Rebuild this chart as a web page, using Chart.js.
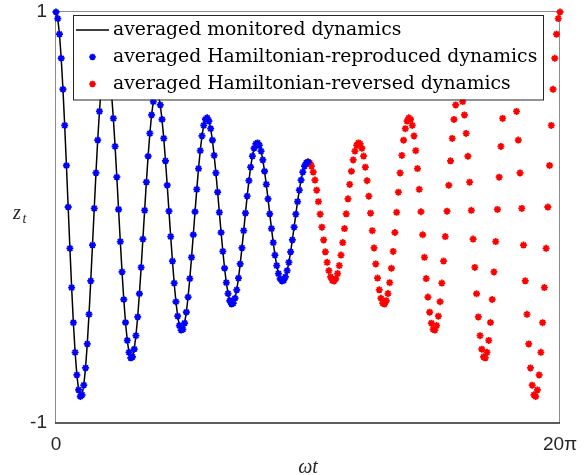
<!DOCTYPE html>
<html>
<head>
<meta charset="utf-8">
<script src="https://cdn.jsdelivr.net/npm/chart.js@4/dist/chart.umd.min.js"></script>
<style>
  html, body { margin: 0; padding: 0; background: #fff; }
  #wrap { width: 585px; height: 475px; }
</style>
</head>
<body>
<div id="wrap"><canvas id="zChart" width="585" height="475"></canvas></div>
<script>
const seriesLabels = [
    'averaged monitored dynamics',
    'averaged Hamiltonian-reproduced dynamics',
    'averaged Hamiltonian-reversed dynamics'
];
const xTickValues = [0, 20 * Math.PI];
const xTickLabels = ['0', '20\u03c0'];
const yTickValues = [-1, 1];
const yTickLabels = ['-1', '1'];

// samples are taken every 2*pi/29 in omega*t
const samplesPerPeriod = 29;
const reverseStart = 10 * Math.PI;

// z_t from 0 to 10*pi (line and blue stars)
const monitored = [
    1.000, 0.968, 0.892, 0.775, 0.624, 0.448, 0.253, 0.051, -0.150, -0.341,
    -0.512, -0.656, -0.766, -0.839, -0.871, -0.863, -0.816, -0.732, -0.615, -0.471,
    -0.308, -0.134, 0.044, 0.217, 0.377, 0.516, 0.629, 0.710, 0.757,
    0.768, 0.744, 0.687, 0.598, 0.482, 0.346, 0.196, 0.039, -0.117, -0.265,
    -0.399, -0.511, -0.598, -0.656, -0.683, -0.678, -0.641, -0.575, -0.484, -0.371,
    -0.243, -0.105, 0.035, 0.172, 0.298, 0.409, 0.499, 0.564, 0.603,
    0.612, 0.593, 0.548, 0.477, 0.385, 0.276, 0.157, 0.031, -0.093, -0.212,
    -0.319, -0.410, -0.480, -0.526, -0.548, -0.544, -0.514, -0.461, -0.387, -0.297,
    -0.194, -0.084, 0.028, 0.137, 0.238, 0.325, 0.397, 0.448, 0.478,
    0.485, 0.469, 0.432, 0.376, 0.302, 0.217, 0.123, 0.025, -0.073, -0.165,
    -0.247, -0.317, -0.370, -0.405, -0.421, -0.417, -0.393, -0.352, -0.295, -0.226,
    -0.148, -0.064, 0.021, 0.104, 0.179, 0.245, 0.299, 0.337, 0.358,
    0.363, 0.351, 0.323, 0.280, 0.225, 0.161, 0.091, 0.018, -0.054, -0.122,
    -0.183, -0.234, -0.273, -0.298, -0.309, -0.306, -0.289, -0.259, -0.218, -0.167,
    -0.109, -0.047, 0.016, 0.077, 0.133, 0.182, 0.221, 0.250, 0.266, 0.270
];

// z_t from 10*pi to 20*pi (red stars)
const reversed = [
    0.270, 0.266, 0.250, 0.221, 0.182, 0.133, 0.077, 0.016, -0.047, -0.109,
    -0.167, -0.218, -0.259, -0.289, -0.306, -0.309, -0.298, -0.273, -0.234, -0.183,
    -0.122, -0.054, 0.018, 0.091, 0.161, 0.225, 0.280, 0.323, 0.351, 0.363,
    0.358, 0.337, 0.299, 0.245, 0.179, 0.104, 0.021, -0.064, -0.148, -0.226,
    -0.295, -0.352, -0.393, -0.417, -0.421, -0.405, -0.370, -0.317, -0.247, -0.165,
    -0.073, 0.025, 0.123, 0.217, 0.302, 0.376, 0.432, 0.469, 0.485,
    0.478, 0.448, 0.397, 0.325, 0.238, 0.137, 0.028, -0.084, -0.194, -0.297,
    -0.387, -0.461, -0.514, -0.544, -0.548, -0.526, -0.480, -0.410, -0.319, -0.212,
    -0.093, 0.031, 0.157, 0.276, 0.385, 0.477, 0.548, 0.593, 0.612,
    0.603, 0.564, 0.499, 0.409, 0.298, 0.172, 0.035, -0.105, -0.243, -0.371,
    -0.484, -0.575, -0.641, -0.678, -0.683, -0.656, -0.598, -0.511, -0.399, -0.265,
    -0.117, 0.039, 0.196, 0.346, 0.482, 0.598, 0.687, 0.744, 0.768,
    0.757, 0.710, 0.629, 0.516, 0.377, 0.217, 0.044, -0.134, -0.308, -0.471,
    -0.615, -0.732, -0.816, -0.863, -0.871, -0.839, -0.766, -0.656, -0.512, -0.341,
    -0.150, 0.051, 0.253, 0.448, 0.624, 0.775, 0.892, 0.968, 1.000
];

const dt = 2 * Math.PI / samplesPerPeriod;
const monitoredPoints = monitored.map((z, i) => ({ x: i * dt, y: z }));
const reversedPoints = reversed.map((z, i) => ({ x: reverseStart + i * dt, y: z }));

function drawStar(ctx, x, y, r, color) {
    ctx.beginPath();
    for (let k = 0; k < 4; k++) {
        const a = k * Math.PI / 4;
        ctx.moveTo(x + r * Math.cos(a), y + r * Math.sin(a));
        ctx.lineTo(x - r * Math.cos(a), y - r * Math.sin(a));
    }
    ctx.strokeStyle = color;
    ctx.lineWidth = 1.8;
    ctx.stroke();
}

// axes box, drawn under the data
const boxPlugin = {
    id: 'boxPlugin',
    beforeDatasetsDraw(chart) {
        const { ctx, chartArea: a } = chart;
        ctx.save();
        ctx.lineWidth = 1;
        ctx.strokeStyle = '#8c8c8c';
        ctx.beginPath();
        ctx.moveTo(a.left - 0.5, a.bottom);
        ctx.lineTo(a.left - 0.5, a.top - 0.5);
        ctx.lineTo(a.right - 0.5, a.top - 0.5);
        ctx.lineTo(a.right - 0.5, a.bottom);
        ctx.stroke();
        ctx.strokeStyle = '#262626';
        ctx.lineWidth = 1.5;
        ctx.beginPath();
        ctx.moveTo(a.left - 1, a.bottom);
        ctx.lineTo(a.right, a.bottom);
        ctx.stroke();
        ctx.restore();
    }
};

// legend box and axis titles
const labelPlugin = {
    id: 'labelPlugin',
    afterDraw(chart) {
        const { ctx, chartArea: a } = chart;
        const ds = chart.data.datasets;
        ctx.save();

        const lx = a.left + 17, ly = a.top + 3;
        const lw = a.right - 17 - lx, lh = 84.5;
        ctx.fillStyle = '#fff';
        ctx.fillRect(lx, ly, lw, lh);
        ctx.strokeStyle = '#262626';
        ctx.lineWidth = 1;
        ctx.strokeRect(lx + 0.5, ly + 0.5, lw, lh);

        const rows = [ly + 15, ly + 42, ly + 69];
        ctx.font = '18.8px "DejaVu Serif"';
        ctx.fillStyle = '#000';
        ctx.textBaseline = 'alphabetic';
        ds.forEach((d, i) => {
            const y = rows[i];
            if (i === 0) {
                ctx.strokeStyle = d.borderColor;
                ctx.lineWidth = 1.5;
                ctx.beginPath();
                ctx.moveTo(lx + 3, y);
                ctx.lineTo(lx + 36, y);
                ctx.stroke();
            } else {
                drawStar(ctx, lx + 19.5, y, 3.2, d.borderColor);
            }
            ctx.fillStyle = '#000';
            ctx.fillText(d.label, lx + 40, y + 5);
        });

        ctx.fillStyle = '#262626';
        ctx.font = 'italic 20px "Liberation Serif"';
        ctx.textAlign = 'left';
        ctx.fillText('z', 13, 219);
        ctx.font = 'italic 14px "Liberation Serif"';
        ctx.fillText('t', 22.5, 223);

        ctx.font = 'italic 20px "Liberation Serif"';
        ctx.textAlign = 'center';
        ctx.fillText('\u03c9t', (a.left + a.right) / 2, 473);
        ctx.restore();
    }
};

new Chart(document.getElementById('zChart'), {
    type: 'scatter',
    data: {
        datasets: [
            {
                label: seriesLabels[0],
                data: monitoredPoints,
                showLine: true,
                borderColor: '#000000',
                borderWidth: 1.5,
                pointRadius: 0,
                order: 3,
                clip: false
            },
            {
                label: seriesLabels[1],
                data: monitoredPoints,
                showLine: false,
                pointStyle: 'star',
                pointRadius: 3.5,
                borderColor: '#0000ff',
                backgroundColor: '#0000ff',
                pointBorderWidth: 1.8,
                order: 1,
                clip: false
            },
            {
                label: seriesLabels[2],
                data: reversedPoints,
                showLine: false,
                pointStyle: 'star',
                pointRadius: 3.5,
                borderColor: '#ff0000',
                backgroundColor: '#ff0000',
                pointBorderWidth: 1.8,
                order: 2,
                clip: false
            }
        ]
    },
    options: {
        responsive: false,
        animation: false,
        devicePixelRatio: 1,
        layout: { padding: { left: 0, right: 25, top: 12, bottom: 0 } },
        plugins: {
            legend: { display: false },
            tooltip: { enabled: false }
        },
        scales: {
            x: {
                type: 'linear',
                min: xTickValues[0],
                max: xTickValues[1],
                grid: { display: false, drawTicks: false },
                border: { display: false },
                afterBuildTicks: scale => {
                    scale.ticks = xTickValues.map(v => ({ value: v }));
                },
                afterFit: scale => {
                    scale.height = 52;
                    scale.paddingLeft = 0;
                    scale.paddingRight = 0;
                },
                ticks: {
                    autoSkip: false,
                    maxRotation: 0,
                    padding: 10,
                    color: '#262626',
                    font: { family: '"Liberation Sans", Arial, sans-serif', size: 19 },
                    callback: (v, i) => xTickLabels[i]
                }
            },
            y: {
                min: yTickValues[0],
                max: yTickValues[1],
                grid: { display: false, drawTicks: false },
                border: { display: false },
                afterBuildTicks: scale => {
                    scale.ticks = yTickValues.map(v => ({ value: v }));
                },
                afterFit: scale => {
                    scale.width = 56;
                    scale.paddingTop = 0;
                    scale.paddingBottom = 0;
                },
                ticks: {
                    autoSkip: false,
                    padding: 9,
                    color: '#262626',
                    font: { family: '"Liberation Sans", Arial, sans-serif', size: 19 },
                    callback: (v, i) => yTickLabels[i]
                }
            }
        }
    },
    plugins: [boxPlugin, labelPlugin]
});
</script>
</body>
</html>
